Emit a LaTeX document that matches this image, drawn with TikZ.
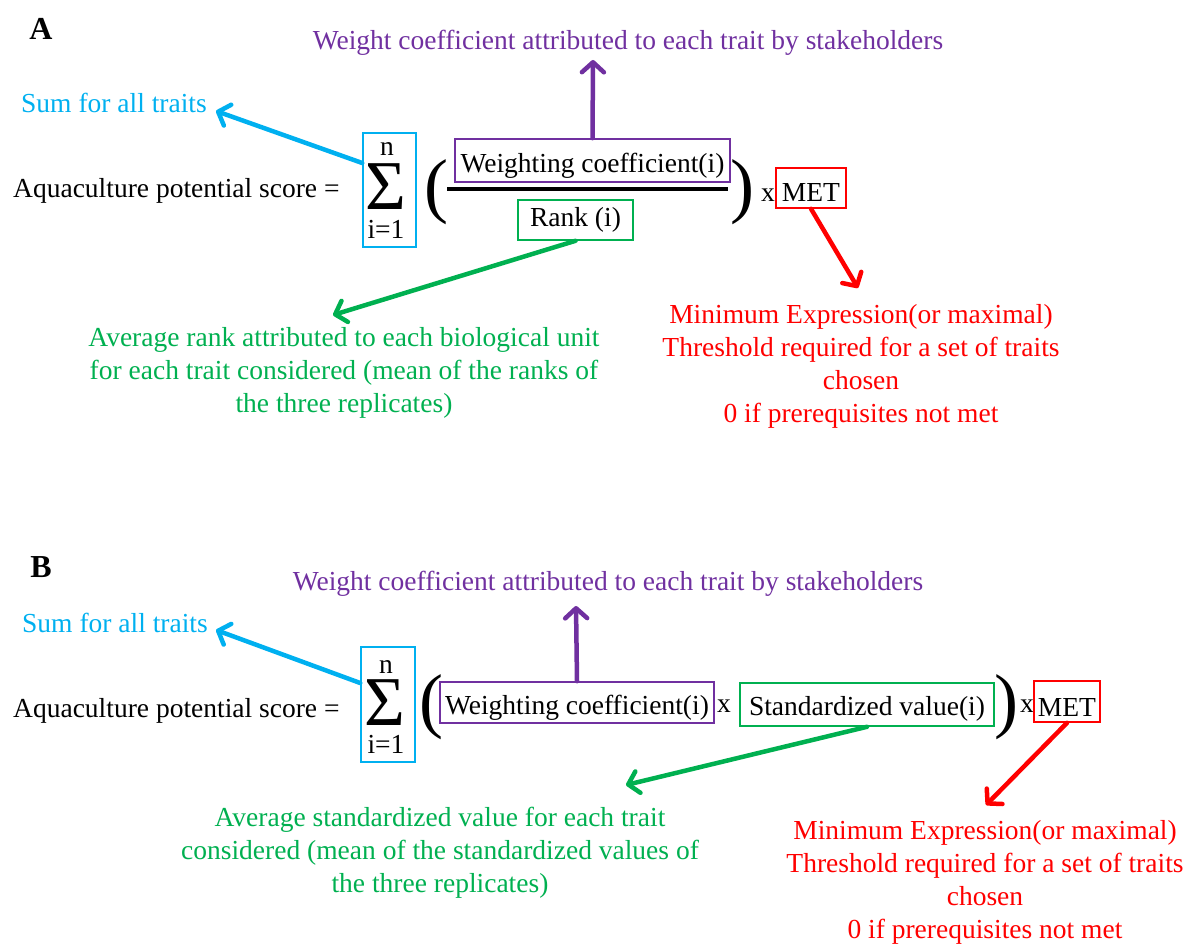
\documentclass[tikz,border=0pt]{standalone}
\usepackage{fontspec}
\setmainfont{Liberation Serif}
\usetikzlibrary{arrows.meta}
\definecolor{cyanc}{RGB}{0,176,240}
\definecolor{purp}{RGB}{112,48,160}
\definecolor{grn}{RGB}{0,176,80}
\definecolor{redc}{RGB}{255,0,0}
\newcommand{\fsn}{\fontsize{27.5}{32.7}\selectfont}
\newcommand{\fsbig}{\fontsize{72}{72}\selectfont}
\newcommand{\fssig}{\fontsize{70}{70}\selectfont}
\begin{document}
\begin{tikzpicture}[x=1pt,y=-1pt,
  txt/.style={font=\fsn, inner sep=0pt, anchor=base},
  mtxt/.style={font=\fsn, inner sep=0pt, anchor=base, align=center},
  bx/.style={draw=#1, line width=1.6pt, inner sep=0pt},
  arr/.style={draw=#1, line width=4.5pt, line cap=round, line join=round,
    -{Straight Barb[length=10pt,width=22pt,line width=4.5pt,round]}},
  paren/.style={font=\fsbig, inner sep=0pt, anchor=base west, text height=50pt, text depth=13pt},
  sig/.style={font=\fssig, inner sep=0pt, anchor=base, text height=46pt, text depth=0pt}]
\useasboundingbox (0,0) rectangle (1188,944);

% ================= Panel A =================
\node[font=\fontsize{32}{32}\selectfont\bfseries, inner sep=0pt, anchor=base] (labA) at (41,40) {A};
\node[txt, text=purp] (wtA) at (628,50) {Weight coefficient attributed to each trait by stakeholders};
\node[txt, text=cyanc, anchor=base west] (sumA) at (21,113) {Sum for all traits};
\node[txt, anchor=base west] (aqA) at (13,197) {Aquaculture potential score =};

\node[bx=cyanc, minimum width=53pt, minimum height=114pt] (sA) at (389.5,190) {};
\node[txt] (nA) at (387,156) {n};
\node[sig] (sgA) at (386,210) {Σ};
\node[txt] (iA) at (386,238) {i=1};

\node[paren] (lpA) at (424,210) {(};
\node[bx=purp, minimum width=275pt, minimum height=43pt] (wA) at (592.5,160.5) {};
\node[txt] (wAt) at (592.5,173) {Weighting coefficient(i)};
\draw[line width=4pt] (447,189) coordinate (fl1) -- (728,189) coordinate (fl2);
\node[bx=grn, minimum width=115pt, minimum height=40pt] (rA) at (575.5,220) {};
\node[txt] (rAt) at (575.5,226) {Rank (i)};
\node[paren] (rpA) at (730,210) {)};
\node[txt] (xA) at (768,202) {x};
\node[bx=redc, minimum width=70pt, minimum height=40pt] (mA) at (811,188) {};
\node[txt] (mAt) at (811,202) {MET};

\node[mtxt, text=redc] (redA) at (861,422) {Minimum Expression(or maximal)\\Threshold required for a set of traits\\chosen\\0 if prerequisites not met};
\node[mtxt, text=grn] (grA) at (344,412) {Average rank attributed to each biological unit\\for each trait considered (mean of the ranks of\\the three replicates)};

\coordinate (cAend) at (216,111);
\coordinate (pAend) at (593,60);
\coordinate (gAend) at (333,315);
\coordinate (rAend) at (858,288);
\draw[arr=cyanc] (sA.west |- 0,163) -- (cAend);
\draw[arr=purp] (wA.north) -- (pAend);
\draw[arr=grn] (rA.south) -- (gAend);
\draw[arr=redc] (mA.south) -- (rAend);

% ================= Panel B =================
\node[font=\fontsize{32}{32}\selectfont\bfseries, inner sep=0pt, anchor=base] (labB) at (41,577) {B};
\node[txt, text=purp] (wtB) at (608,590) {Weight coefficient attributed to each trait by stakeholders};
\node[txt, text=cyanc, anchor=base west] (sumB) at (22,632) {Sum for all traits};
\node[txt, anchor=base west] (aqB) at (13,717) {Aquaculture potential score =};

\node[bx=cyanc, minimum width=54pt, minimum height=115pt] (sB) at (388,704.5) {};
\node[txt] (nB) at (386,673) {n};
\node[sig] (sgB) at (385,725) {Σ};
\node[txt] (iB) at (386,753) {i=1};

\node[paren] (lpB) at (419,724) {(};
\node[bx=purp, minimum width=274pt, minimum height=41pt] (wB) at (577,702.5) {};
\node[txt] (wBt) at (577,714) {Weighting coefficient(i)};
\node[txt] (xB1) at (724,712) {x};
\node[bx=grn, minimum width=254pt, minimum height=43pt] (gB) at (867,704.5) {};
\node[txt] (gBt) at (867,715) {Standardized value(i)};
\node[paren] (rpB) at (994,724) {)};
\node[txt] (xB2) at (1027,712) {x};
\node[bx=redc, minimum width=66pt, minimum height=41pt] (mB) at (1067,701.5) {};
\node[txt] (mBt) at (1067,716) {MET};

\node[mtxt, text=grn] (grB) at (440,892) {Average standardized value for each trait\\considered (mean of the standardized values of\\the three replicates)};
\node[mtxt, text=redc] (redB) at (985,938) {Minimum Expression(or maximal)\\Threshold required for a set of traits\\chosen\\0 if prerequisites not met};

\coordinate (cBend) at (216,630);
\coordinate (pBend) at (576,606);
\coordinate (gBend) at (626,785);
\coordinate (rBend) at (986,805);
\draw[arr=cyanc] (sB.west |- 0,683) -- (cBend);
\draw[arr=purp] (wB.north) -- (pBend);
\draw[arr=grn] (gB.south) -- (gBend);
\draw[arr=redc] (mB.south) -- (rBend);
\end{tikzpicture}
\end{document}
